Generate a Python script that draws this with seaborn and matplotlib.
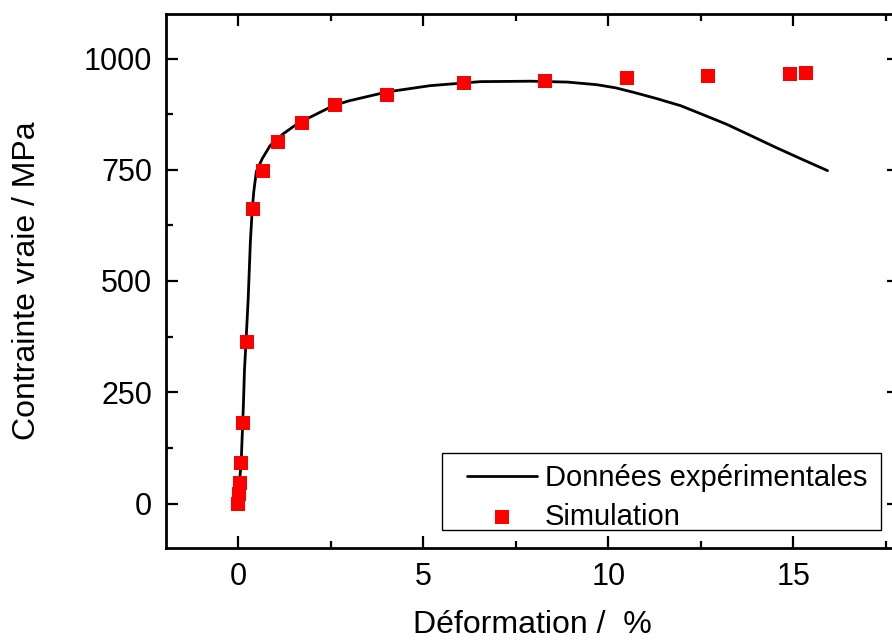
import numpy as np
import pandas as pd
import matplotlib
matplotlib.use("Agg")
import matplotlib.pyplot as plt
from matplotlib.ticker import MultipleLocator
from matplotlib.patches import Rectangle
import seaborn as sns

sns.set_theme(style="ticks")
plt.rcParams['font.family'] = ['Liberation Sans', 'DejaVu Sans']
plt.rcParams['text.color'] = 'black'
plt.rcParams['axes.labelcolor'] = 'black'

# experimental curve (strain in %, true stress in MPa)
exp_strain = [0.0, 0.05, 0.08, 0.14, 0.17, 0.21, 0.27, 0.33, 0.38, 0.42, 0.49,
              0.65, 0.86, 1.22, 1.49, 1.7, 2.57, 3.0, 4.03, 5.19, 6.54, 7.9,
              8.9, 9.7, 10.2, 10.68, 11.3, 11.95, 12.49, 13.2, 13.84, 14.5,
              15.19, 15.92]
exp_stress = [0, 63, 90, 220, 300, 362, 460, 590, 661, 700, 746,
              775, 804, 831, 847, 858, 894, 905, 925, 939, 948, 949,
              947, 941, 934, 924, 910, 894, 876, 852, 827, 801,
              775, 748]

# simulation points
sim_strain = [0.0, 0.02, 0.05, 0.08, 0.13, 0.24, 0.41, 0.68, 1.08, 1.73, 2.62,
              4.03, 6.1, 8.3, 10.5, 12.7, 14.9, 15.35]
sim_stress = [0, 22, 45, 90, 182, 362, 661, 748, 813, 856, 896,
              919, 946, 950, 957, 960, 966, 968]

df_exp = pd.DataFrame({'strain': exp_strain, 'stress': exp_stress})
df_sim = pd.DataFrame({'strain': sim_strain, 'stress': sim_stress})

fig = plt.figure(figsize=(8.92, 6.4), dpi=100)
ax = fig.add_axes([166/892, 92/640, 733/892, 534/640])

sns.lineplot(data=df_exp, x='strain', y='stress', ax=ax, color='black',
             linewidth=2, label='Données expérimentales')
sns.scatterplot(data=df_sim, x='strain', y='stress', ax=ax, color='red',
                marker='s', s=100, linewidth=0, label='Simulation', zorder=3)

ax.set_xlim(-1.95, 17.85)
ax.set_ylim(-100, 1100)
ax.xaxis.set_major_locator(MultipleLocator(5))
ax.xaxis.set_minor_locator(MultipleLocator(2.5))
ax.yaxis.set_major_locator(MultipleLocator(250))
ax.yaxis.set_minor_locator(MultipleLocator(125))
ax.tick_params(which='both', direction='in', top=True, right=True,
               width=1.6, colors='black', labelsize=22)
ax.tick_params(which='major', length=8.5, pad=10)
ax.tick_params(which='minor', length=5)
for sp in ax.spines.values():
    sp.set_linewidth(2)
    sp.set_color('black')

ax.set_xlabel('Déformation /  %', fontsize=23, labelpad=13)
ax.set_ylabel('Contrainte vraie / MPa', fontsize=23, labelpad=30)

# legend box drawn separately so the padding matches
ax.add_patch(Rectangle((0.3765, 0.0337), 0.5989, 0.1442, transform=ax.transAxes,
                       fill=True, facecolor='white', edgecolor='black', lw=1,
                       zorder=4))
leg = ax.legend(loc='upper left', bbox_to_anchor=(0.4106, 0.1573), borderaxespad=0,
                fontsize=21, frameon=False, handlelength=2.4, handletextpad=0.27,
                labelspacing=0.37, borderpad=0)
leg.set_zorder(5)

fig.savefig('out.png', dpi=100)
